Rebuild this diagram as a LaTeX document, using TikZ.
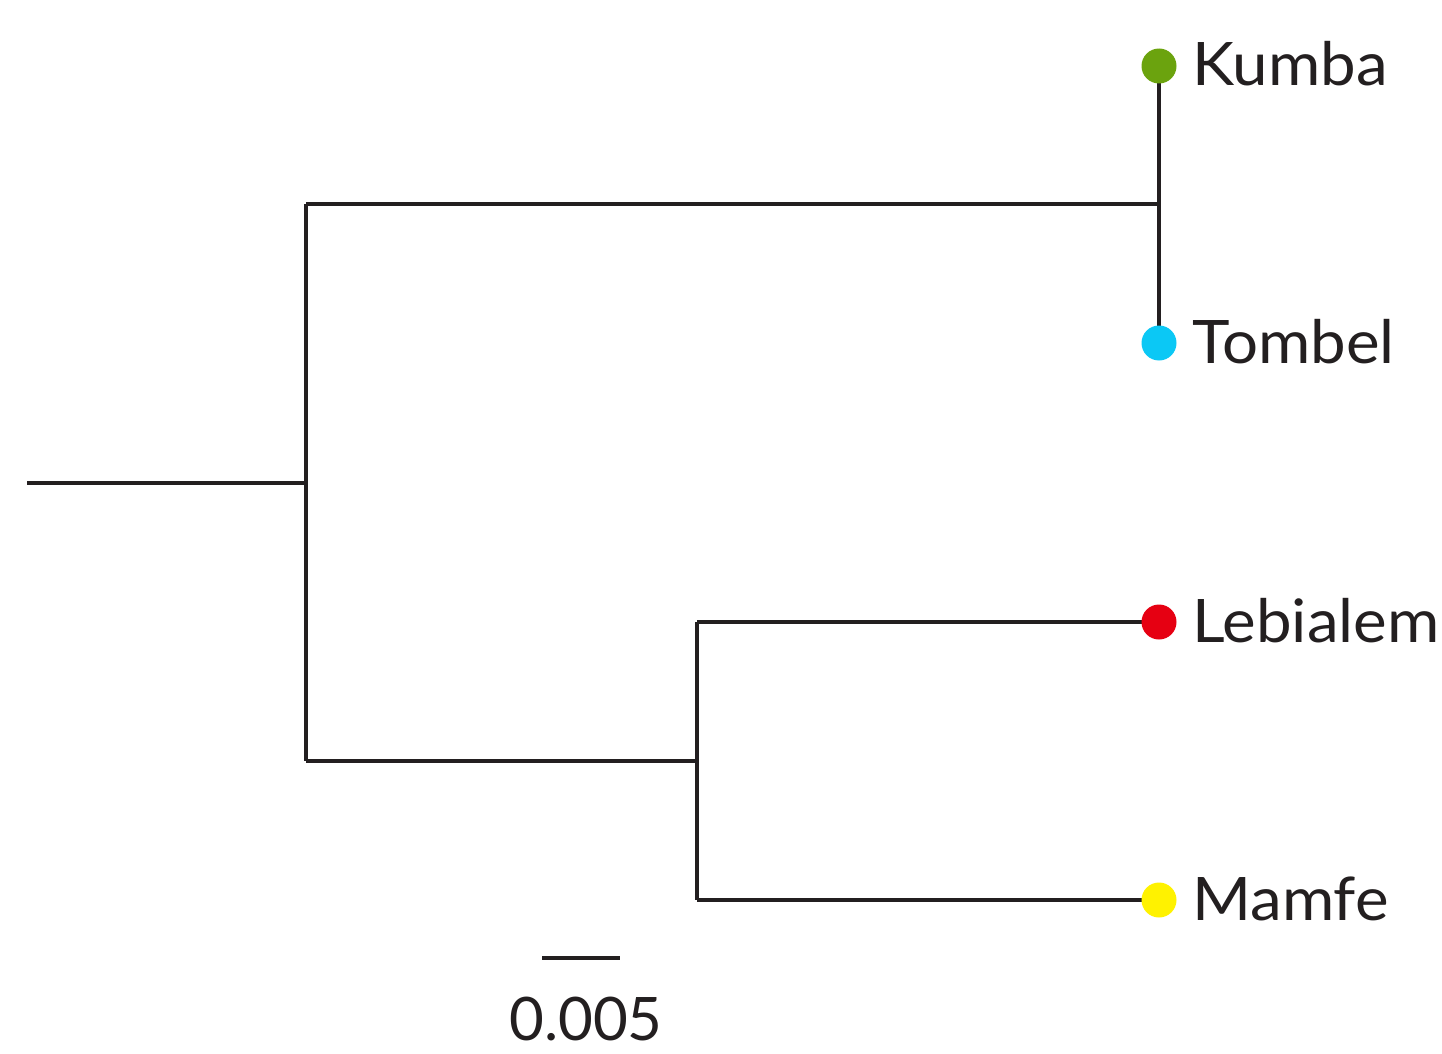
\documentclass[tikz,border=0pt]{standalone}
\usepackage{fontspec}
\setmainfont{Lato}
\newfontfamily\taxonfont{Lato}[FakeStretch=1.06]
\definecolor{ink}{HTML}{231F20}
\definecolor{kumbaC}{HTML}{6BA30E}
\definecolor{tombelC}{HTML}{0BC8F5}
\definecolor{lebialemC}{HTML}{E60012}
\definecolor{mamfeC}{HTML}{FFF200}
\begin{document}
\begin{tikzpicture}[x=1pt,y=-1pt,
  branch/.style={draw=ink,line width=4.8pt,line cap=butt,line join=miter},
  tipdot/.style={circle,inner sep=0pt,minimum size=35pt},
  taxon/.style={anchor=base west,inner sep=0pt,text=ink,font=\taxonfont\fontsize{60}{62}\selectfont},
  scalelbl/.style={anchor=base,inner sep=0pt,text=ink,font=\fontsize{60}{62}\selectfont}]
\useasboundingbox (0,0) rectangle (1442,1054);
% internal nodes of the tree
\coordinate (root) at (27,483);
\coordinate (n0) at (306,483);
\coordinate (n1) at (1159,204);
\coordinate (n2) at (697,761);
% tips
\coordinate (kumba) at (1159,66);
\coordinate (tombel) at (1159,343);
\coordinate (lebialem) at (1159,622);
\coordinate (mamfe) at (1159,900);
% branches
\draw[branch] (root) -- (n0);
\draw[branch] (n1 -| n0) -- (n2 -| n0);
\draw[branch] (n1 -| n0) -- (n1);
\draw[branch] (kumba) -- (tombel);
\draw[branch] (n2 -| n0) -- (n2);
\draw[branch] (lebialem -| n2) -- (mamfe -| n2);
\draw[branch] (lebialem -| n2) -- (lebialem);
\draw[branch] (mamfe -| n2) -- (mamfe);
% tip markers and labels
\node[tipdot,fill=kumbaC] (dk) at (kumba) {};
\node[tipdot,fill=tombelC] (dt) at (tombel) {};
\node[tipdot,fill=lebialemC] (dl) at (lebialem) {};
\node[tipdot,fill=mamfeC] (dm) at (mamfe) {};
\node[taxon] (lk) at (1192,86) {Kumba};
\node[taxon] (lt) at (1192,363) {Tombel};
\node[taxon] (ll) at (1192,642) {Lebialem};
\node[taxon] (lm) at (1192,920) {Mamfe};
% scale bar
\coordinate (sbl) at (542,958);
\coordinate (sbr) at (620,958);
\draw[branch] (sbl) -- (sbr);
\node[scalelbl] (sb) at (586,1040) {0.005};
\end{tikzpicture}
\end{document}
